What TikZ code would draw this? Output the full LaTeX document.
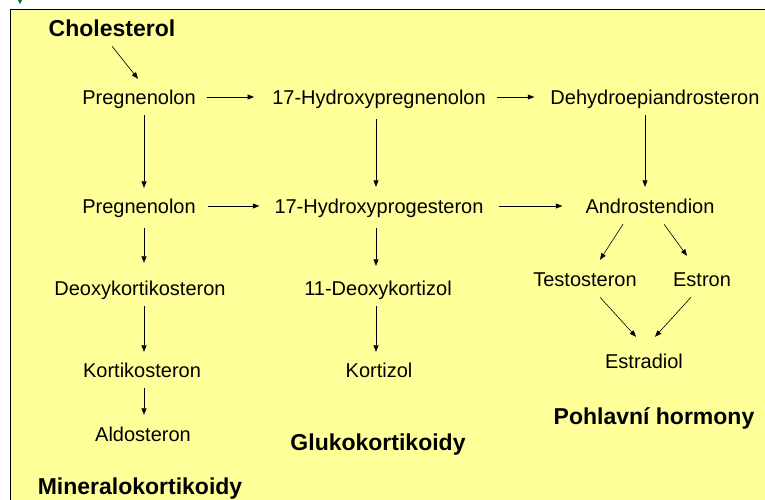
\documentclass[tikz,border=0pt]{standalone}
\usepackage{fontspec}
\setmainfont{Liberation Sans}
\usetikzlibrary{arrows.meta}

\definecolor{sheetyellow}{RGB}{255,255,153}
\definecolor{markgreen}{RGB}{0,110,60}

\tikzset{
    compound/.style={anchor=base, inner sep=0pt, text height=14pt, text depth=0pt,
        font=\fontsize{20}{24}\selectfont},
    group/.style={anchor=base, inner sep=0pt, text height=16pt, text depth=0pt,
        font=\fontsize{23}{27}\selectfont\bfseries},
    reaction/.style={line width=0.6pt, -{Triangle[length=6.5pt,width=5pt]}}
}

\begin{document}
\begin{tikzpicture}[x=1pt, y=-1pt]

    % Fix the page size
    \useasboundingbox (0,0) rectangle (765,499);

    % Draw the sheet
    \draw[line width=1pt, fill=sheetyellow] (10,9) rectangle (775,510);
    \fill[markgreen] (18,0) -- (22,0) -- (20,4) -- cycle;

    % Draw the starting point
    \node[group] (chol) at (112,36) {Cholesterol};

    % Draw the first row
    \node[compound] (preg1) at (139,104) {Pregnenolon};
    \node[compound] (hpreg) at (379,104) {17-Hydroxypregnenolon};
    \node[compound] (dhea) at (655,104) {Dehydroepiandrosteron};

    % Draw the second row
    \node[compound] (preg2) at (139,213) {Pregnenolon};
    \node[compound] (hprog) at (379,213) {17-Hydroxyprogesteron};
    \node[compound] (andro) at (650,213) {Androstendion};

    % Draw the lower rows
    \node[compound] (deoxy) at (140,295) {Deoxykortikosteron};
    \node[compound] (deoxyk) at (378,295) {11-Deoxykortizol};
    \node[compound] (testo) at (585,286) {Testosteron};
    \node[compound] (estron) at (702,286) {Estron};
    \node[compound] (kortiko) at (142,377) {Kortikosteron};
    \node[compound] (kortizol) at (379,377) {Kortizol};
    \node[compound] (estradiol) at (644,368) {Estradiol};
    \node[compound] (aldo) at (143,441) {Aldosteron};

    % Draw the group names
    \node[group] (gluko) at (378,450) {Glukokortikoidy};
    \node[group] (pohl) at (654,424) {Pohlavní hormony};
    \node[group] (minera) at (140,494) {Mineralokortikoidy};

    % Draw the horizontal reactions
    \draw[reaction] ([yshift=-10pt]chol.south) -- ([xshift=-1pt,yshift=11pt]preg1.north);
    \draw[reaction, shorten <=11pt, shorten >=18pt] (preg1) -- (hpreg);
    \draw[reaction, shorten <=11pt, shorten >=16pt] (hpreg) -- (dhea);
    \draw[reaction, shorten <=12pt, shorten >=15pt] (preg2) -- (hprog);
    \draw[reaction, shorten <=15pt, shorten >=23pt] (hprog) -- (andro);

    % Draw the vertical reactions
    \draw[reaction] ([xshift=5pt,yshift=-11pt]preg1.south) -- ([xshift=5pt,yshift=11pt]preg2.north);
    \draw[reaction] ([xshift=-3pt,yshift=-15pt]hpreg.south) -- ([xshift=-3pt,yshift=12pt]hprog.north);
    \draw[reaction] ([xshift=-10pt,yshift=-11pt]dhea.south) -- ([xshift=-5pt,yshift=12pt]andro.north);
    \draw[reaction] ([xshift=5pt,yshift=-15pt]preg2.south) -- ([xshift=4pt,yshift=18pt]deoxy.north);
    \draw[reaction] ([xshift=4pt,yshift=-11pt]deoxy.south) -- ([xshift=2pt,yshift=11pt]kortiko.north);
    \draw[reaction] ([xshift=2pt,yshift=-11pt]kortiko.south) -- ([xshift=1pt,yshift=12pt]aldo.north);
    \draw[reaction] ([xshift=-3pt,yshift=-15pt]hprog.south) -- ([xshift=-2pt,yshift=15pt]deoxyk.north);
    \draw[reaction] ([xshift=-2pt,yshift=-11pt]deoxyk.south) -- ([xshift=-3pt,yshift=11pt]kortizol.north);

    % Draw the sex hormone branches
    \draw[reaction] ([xshift=-27pt,yshift=-11pt]andro.south) -- ([xshift=15pt,yshift=12pt]testo.north);
    \draw[reaction] ([xshift=14pt,yshift=-11pt]andro.south) -- ([xshift=-15pt,yshift=16pt]estron.north);
    \draw[reaction] ([xshift=15pt,yshift=-11pt]testo.south) -- ([xshift=-8pt,yshift=17pt]estradiol.north);
    \draw[reaction] ([xshift=-11pt,yshift=-11pt]estron.south) -- ([xshift=11pt,yshift=17pt]estradiol.north);

\end{tikzpicture}
\end{document}
